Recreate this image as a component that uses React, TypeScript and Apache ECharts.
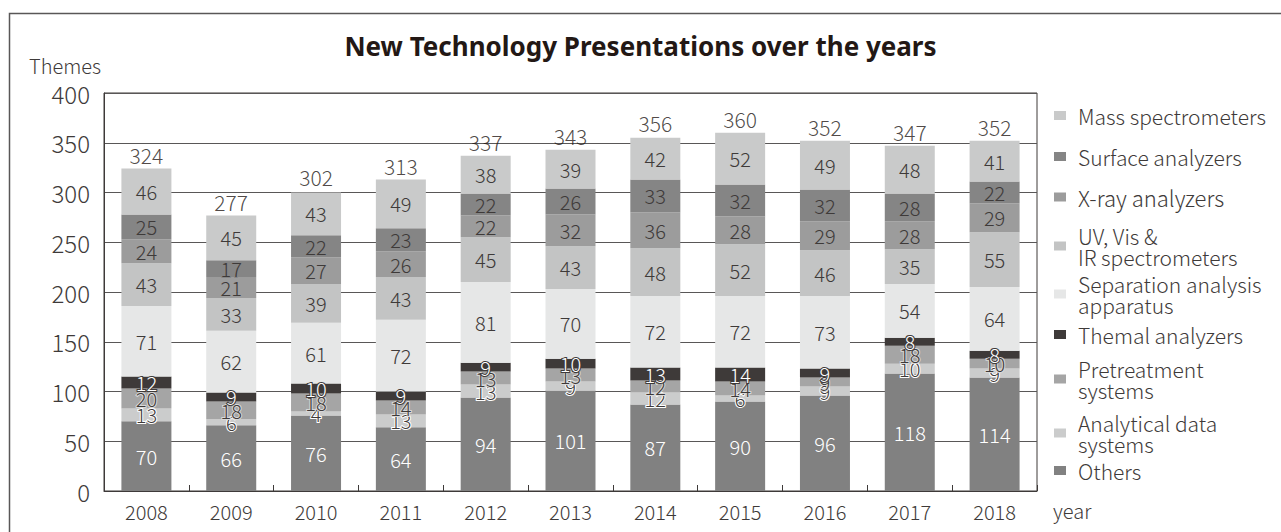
import React, { useEffect, useRef } from "react";
import * as echarts from "echarts";

const years = ["2008", "2009", "2010", "2011", "2012", "2013", "2014", "2015", "2016", "2017", "2018"];
const others = [70, 66, 76, 64, 94, 101, 87, 90, 96, 118, 114];
const analytical = [13, 6, 4, 13, 13, 9, 12, 6, 9, 10, 9];
const pretreatment = [20, 18, 18, 14, 13, 13, 12, 14, 9, 18, 10];
const thermal = [12, 9, 10, 9, 9, 10, 13, 14, 9, 8, 8];
const separation = [71, 62, 61, 72, 81, 70, 72, 72, 73, 54, 64];
const uvVisIr = [43, 33, 39, 43, 45, 43, 48, 52, 46, 35, 55];
const xray = [24, 21, 27, 26, 22, 32, 36, 28, 29, 28, 29];
const surface = [25, 17, 22, 23, 22, 26, 33, 32, 32, 28, 22];
const mass = [46, 45, 43, 49, 38, 39, 42, 52, 49, 48, 41];
const totals = [324, 277, 302, 313, 337, 343, 356, 360, 352, 347, 352];

const FONT = "'Noto Sans CJK JP', 'Noto Sans', sans-serif";
const W = 300;
const DARK = "#3e3a39";

type Def = { name: string; data: number[]; color: string; label: string; halo: string; legendTop: number; legendSize?: number };

const defs: Def[] = [
  { name: "Others", data: others, color: "#818181", label: "#ffffff", halo: "#818181", legendTop: 460 },
  { name: "Analytical data\nsystems", data: analytical, color: "#cbcccc", label: DARK, halo: "#ffffff", legendTop: 412 },
  { name: "Pretreatment\nsystems", data: pretreatment, color: "#a5a5a5", label: DARK, halo: "#d8d8d8", legendTop: 358 },
  { name: "Themal analyzers", data: thermal, color: "#3e3a39", label: "#ffffff", halo: "#3e3a39", legendTop: 324 },
  { name: "Separation analysis\napparatus", data: separation, color: "#e6e7e7", label: DARK, halo: "#e6e7e7", legendTop: 273 },
  { name: "UV, Vis &\nIR spectrometers", data: uvVisIr, color: "#c3c4c4", label: DARK, halo: "#c3c4c4", legendTop: 225 },
  { name: "X-ray analyzers", data: xray, color: "#9c9c9c", label: DARK, halo: "#9c9c9c", legendTop: 186, legendSize: 22 },
  { name: "Surface analyzers", data: surface, color: "#858585", label: DARK, halo: "#858585", legendTop: 146 },
  { name: "Mass spectrometers", data: mass, color: "#c9caca", label: DARK, halo: "#c9caca", legendTop: 105 },
];

export default function App() {
  const ref = useRef<HTMLDivElement>(null);
  useEffect(() => {
    if (!ref.current) return;
    const chart = echarts.init(ref.current, undefined, { renderer: "svg" });
    const series: any[] = defs.map((d) => ({
      name: d.name,
      type: "bar",
      stack: "total",
      barWidth: 50,
      data: d.data,
      itemStyle: { color: d.color },
      label: {
        show: true,
        position: "inside",
        color: d.label,
        fontSize: 20,
        fontWeight: W,
        fontFamily: FONT,
        textBorderColor: d.halo,
        textBorderWidth: 2,
      },
    }));
    series.push({
      name: "Total",
      type: "scatter",
      data: totals,
      symbolSize: 0,
      label: {
        show: true,
        position: "top",
        distance: 3,
        color: "#231815",
        fontSize: 21,
        fontWeight: W,
        fontFamily: FONT,
      },
    });
    const legends = defs.map((d) => ({
      data: [d.name],
      orient: "vertical",
      left: 1054,
      top: d.legendTop,
      padding: 0,
      icon: "rect",
      itemWidth: 12,
      itemHeight: 9,
      itemGap: 0,
      textStyle: {
        fontSize: d.legendSize || 21,
        fontWeight: W,
        lineHeight: 21,
        color: DARK,
        fontFamily: FONT,
        padding: [0, 0, 0, 7],
      },
    }));
    chart.setOption({
      animation: false,
      backgroundColor: "#ffffff",
      title: {
        text: "New Technology Presentations over the years",
        left: "center",
        top: 28,
        textStyle: { fontSize: 26, fontWeight: "bold", color: "#231815", fontFamily: "'Noto Sans', sans-serif" },
      },
      legend: legends,
      grid: { left: 104, right: 244, top: 93, bottom: 41, show: true, borderColor: DARK, borderWidth: 1 },
      xAxis: {
        type: "category",
        data: years,
        name: "year",
        nameLocation: "end",
        nameGap: 16,
        nameTextStyle: { fontSize: 20, fontWeight: W, color: DARK, fontFamily: FONT, verticalAlign: "top", padding: [10, 0, 0, 0] },
        axisLine: { lineStyle: { color: DARK, width: 1 } },
        axisTick: { show: true, inside: true, length: 6, interval: 0, lineStyle: { color: DARK } },
        axisLabel: { fontSize: 20, fontWeight: W, color: DARK, fontFamily: FONT, margin: 10 },
      },
      yAxis: {
        type: "value",
        min: 0,
        max: 400,
        interval: 50,
        name: "Themes",
        nameLocation: "end",
        nameGap: 18,
        nameTextStyle: { fontSize: 20, fontWeight: W, color: DARK, fontFamily: FONT, align: "center", padding: [0, 78, 0, 0] },
        axisLine: { show: true, lineStyle: { color: DARK, width: 1 } },
        axisTick: { show: false },
        axisLabel: { fontSize: 24, fontWeight: W, color: DARK, fontFamily: FONT, margin: 14 },
        splitLine: { lineStyle: { color: "#595757", width: 1 } },
      },
      graphic: [
        {
          type: "rect",
          shape: { x: 9.5, y: 13.5, width: 1400, height: 700 },
          style: { fill: "none", stroke: "#595757", lineWidth: 1.5 },
          silent: true,
          z: -1,
        },
      ],
      series,
    });
    return () => chart.dispose();
  }, []);
  return <div ref={ref} style={{ position: "fixed", left: 0, top: 0, width: 1281, height: 532 }} />;
}
